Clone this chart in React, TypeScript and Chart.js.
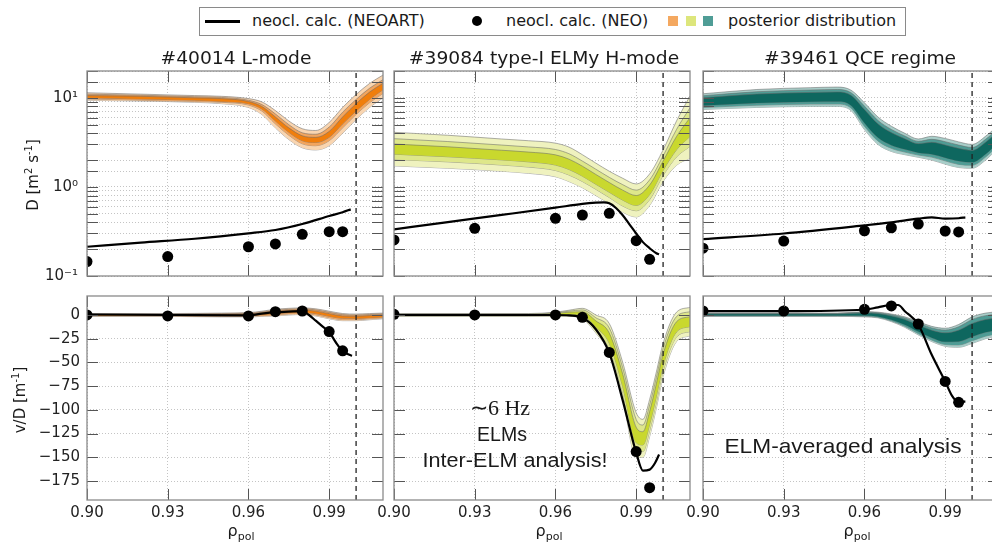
import React, { useEffect, useRef } from 'react';
import { Chart, registerables } from 'chart.js';

Chart.register(...registerables);

// ---------------- axes ----------------
const X_MIN = 0.9;
const X_MAX = 1.01;
const X_TICKS = [0.9, 0.93, 0.96, 0.99];
const X_TICK_LABELS = ['0.90', '0.93', '0.96', '0.99'];
const SEPARATRIX = 1.0;
const D_MIN = 0.1;
const D_MAX = 20;
const D_MAJOR = [0.1, 1, 10];
const D_MAJOR_LABELS = ['10\u207B\u00B9', '10\u2070', '10\u00B9'];
const VD_MIN = -195;
const VD_MAX = 20;
const VD_TICKS = [0, -25, -50, -75, -100, -125, -150, -175];
const VD_TICK_LABELS = ['0', '\u221225', '\u221250', '\u221275', '\u2212100', '\u2212125', '\u2212150', '\u2212175'];

// ---------------- titles ----------------
const TITLES = ['#40014 L-mode', '#39084 type-I ELMy H-mode', '#39461 QCE regime'];

// ---------------- NEO points ----------------
const NEO_X = [0.90, 0.93, 0.96, 0.97, 0.98, 0.99, 0.995];
const NEO_D_40014 = [0.145, 0.165, 0.213, 0.229, 0.294, 0.314, 0.314];
const NEO_D_39084 = [0.254, 0.343, 0.444, 0.484, 0.506, 0.249, 0.154];
const NEO_D_39461 = [0.205, 0.247, 0.322, 0.348, 0.383, 0.32, 0.312];
const NEO_VD_40014 = [0, -1, -1, 3.5, 4.2, -17.5, -37.8];
const NEO_VD_39084 = [0.7, 0, 0, -2.5, -39.5, -144, -182];
const NEO_VD_39461 = [4.2, 4.2, 6, 9.5, -9.5, -70, -92];

// ---------------- NEOART lines ----------------
const NEOART_D_X_40014 = [0.90, 0.92, 0.94, 0.96, 0.97, 0.98, 0.99, 0.995, 0.998];
const NEOART_D_40014 = [0.213, 0.237, 0.262, 0.301, 0.328, 0.383, 0.471, 0.52, 0.56];
const NEOART_D_X_39084 = [0.90, 0.92, 0.94, 0.96, 0.97, 0.975, 0.978, 0.98, 0.9825, 0.985, 0.9875, 0.99, 0.9925, 0.995, 0.9975, 0.9985];
const NEOART_D_39084 = [0.334, 0.403, 0.485, 0.585, 0.645, 0.665, 0.67, 0.655, 0.58, 0.48, 0.38, 0.30, 0.24, 0.205, 0.18, 0.175];
const NEOART_D_X_39461 = [0.90, 0.93, 0.96, 0.97, 0.98, 0.985, 0.99, 0.995, 0.9975];
const NEOART_D_39461 = [0.26, 0.30, 0.37, 0.40, 0.44, 0.455, 0.44, 0.445, 0.455];

const NEOART_VD_X_40014 = [0.90, 0.93, 0.96, 0.965, 0.97, 0.975, 0.98, 0.9825, 0.985, 0.9875, 0.99, 0.9925, 0.995, 0.9975, 0.9985];
const NEOART_VD_40014 = [0.5, 0, -0.5, 1.5, 3, 3.5, 4, 0, -6, -12, -18, -29, -38, -42, -43];
const NEOART_VD_X_39084 = [0.90, 0.93, 0.96, 0.965, 0.97, 0.975, 0.98, 0.985, 0.99, 0.9925, 0.995, 0.997, 0.9985];
const NEOART_VD_39084 = [0, 0, 0, -0.5, -3, -15, -40, -90, -145, -164, -163, -156, -147];
const NEOART_VD_X_39461 = [0.90, 0.93, 0.96, 0.965, 0.97, 0.9725, 0.975, 0.98, 0.985, 0.99, 0.9925, 0.995, 0.9975];
const NEOART_VD_39461 = [4, 4, 5.5, 8, 10.5, 10.5, 4, -10, -42, -70, -85, -92, -91];

// ---------------- posterior bands: D ----------------
const BAND_D_X_40014 = [0.90, 0.92, 0.94, 0.95, 0.96, 0.965, 0.97, 0.975, 0.98, 0.985, 0.99, 0.995, 1.0, 1.005, 1.01];
const D_OUT_LO_40014 = [9.4, 9.2, 8.9, 8.6, 7.8, 6.5, 4.6, 3.4, 2.75, 2.6, 2.9, 4.0, 5.7, 7.8, 10.0];
const D_OUT_HI_40014 = [11.4, 11.0, 10.6, 10.4, 9.8, 9.0, 7.2, 5.5, 4.5, 4.3, 5.3, 7.8, 10.9, 14.5, 18.0];
const D_MID_LO_40014 = [9.7, 9.4, 9.1, 8.9, 8.3, 7.1, 5.1, 3.8, 3.05, 2.9, 3.3, 4.6, 6.5, 8.8, 11.2];
const D_MID_HI_40014 = [11.0, 10.7, 10.3, 10.1, 9.4, 8.4, 6.6, 5.0, 4.05, 3.9, 4.7, 6.9, 9.6, 12.8, 16.0];
const D_CORE_LO_40014 = [10.0, 9.7, 9.4, 9.1, 8.6, 7.5, 5.5, 4.1, 3.3, 3.15, 3.6, 5.1, 7.1, 9.6, 12.3];
const D_CORE_HI_40014 = [10.6, 10.4, 10.0, 9.8, 9.1, 8.0, 6.1, 4.6, 3.75, 3.6, 4.2, 6.1, 8.6, 11.6, 14.6];

const BAND_D_X_39084 = [0.90, 0.92, 0.94, 0.95, 0.96, 0.965, 0.97, 0.975, 0.98, 0.985, 0.99, 0.995, 1.0, 1.005, 1.01];
const D_OUT_LO_39084 = [1.72, 1.62, 1.50, 1.42, 1.30, 1.15, 0.98, 0.80, 0.65, 0.52, 0.46, 0.62, 1.15, 1.75, 2.1];
const D_OUT_HI_39084 = [4.1, 3.8, 3.45, 3.3, 3.1, 2.8, 2.3, 1.85, 1.5, 1.25, 1.08, 1.4, 2.6, 5.5, 10.5];
const D_MID_LO_39084 = [2.03, 1.91, 1.76, 1.67, 1.53, 1.36, 1.15, 0.94, 0.76, 0.61, 0.54, 0.72, 1.34, 2.17, 2.85];
const D_MID_HI_39084 = [3.48, 3.23, 2.95, 2.81, 2.63, 2.36, 1.95, 1.58, 1.28, 1.06, 0.92, 1.20, 2.23, 4.42, 7.74];
const D_CORE_LO_39084 = [2.33, 2.18, 2.01, 1.91, 1.76, 1.57, 1.32, 1.07, 0.87, 0.71, 0.62, 0.82, 1.53, 2.61, 3.69];
const D_CORE_HI_39084 = [3.03, 2.82, 2.58, 2.46, 2.29, 2.05, 1.71, 1.38, 1.12, 0.92, 0.80, 1.05, 1.95, 3.68, 5.98];

const BAND_D_X_39461 = [0.90, 0.92, 0.94, 0.95, 0.955, 0.96, 0.965, 0.97, 0.975, 0.98, 0.985, 0.99, 0.995, 1.0, 1.005, 1.01];
const D_OUT_LO_39461 = [7.4, 7.8, 8.0, 8.0, 7.2, 4.4, 3.0, 2.5, 2.3, 2.15, 2.0, 1.8, 1.65, 1.62, 2.0, 2.8];
const D_OUT_HI_39461 = [11.1, 12.4, 13.0, 13.2, 12.2, 8.8, 6.1, 4.8, 4.0, 3.45, 3.7, 3.5, 3.2, 3.0, 3.7, 5.0];
const D_MID_LO_39461 = [7.78, 8.26, 8.5, 8.52, 7.69, 4.80, 3.28, 2.71, 2.46, 2.28, 2.16, 1.96, 1.79, 1.75, 2.16, 3.01];
const D_MID_HI_39461 = [10.55, 11.70, 12.24, 12.4, 11.42, 8.07, 5.58, 4.42, 3.73, 3.25, 3.42, 3.22, 2.95, 2.77, 3.42, 4.65];
const D_CORE_LO_39461 = [8.18, 8.75, 9.03, 9.07, 8.21, 5.23, 3.58, 2.94, 2.64, 2.42, 2.33, 2.13, 1.95, 1.89, 2.33, 3.24];
const D_CORE_HI_39461 = [10.03, 11.04, 11.5, 11.65, 10.69, 7.40, 5.11, 4.07, 3.48, 3.06, 3.17, 2.96, 2.71, 2.57, 3.17, 4.32];

// ---------------- posterior bands: v/D ----------------
const BAND_VD_X_40014 = [0.90, 0.93, 0.95, 0.96, 0.965, 0.97, 0.975, 0.98, 0.985, 0.99, 0.995, 1.0, 1.005, 1.01];
const VD_OUT_LO_40014 = [-1.5, -1.5, -2, -2, -1.5, -1, 0, 0.5, -1, -4, -6, -6, -5, -4];
const VD_OUT_HI_40014 = [1.5, 1.5, 2, 2.5, 4, 6, 7, 7.5, 6.5, 4, 1.5, 1, 1.5, 2];
const VD_MID_LO_40014 = [-1.05, -1.05, -1.4, -1.3, -0.7, 0.05, 1.05, 1.55, 0.1, -2.8, -4.9, -4.95, -4.0, -3.1];
const VD_MID_HI_40014 = [1.05, 1.05, 1.4, 1.8, 3.2, 4.95, 5.95, 6.45, 5.4, 2.8, 0.4, -0.05, 0.5, 1.1];
const VD_CORE_LO_40014 = [-0.5, -0.5, -0.7, -0.5, 0.3, 1.3, 2.3, 2.8, 1.45, -1.4, -3.55, -3.7, -2.9, -2.05];
const VD_CORE_HI_40014 = [0.5, 0.5, 0.7, 1.0, 2.2, 3.7, 4.7, 5.2, 4.05, 1.4, -0.95, -1.3, -0.6, 0.05];

const BAND_VD_X_39084 = [0.90, 0.93, 0.95, 0.96, 0.965, 0.97, 0.975, 0.98, 0.985, 0.99, 0.9925, 0.995, 0.9975, 1.0, 1.005, 1.01];
const VD_OUT_LO_39084 = [-1.5, -1.5, -1.5, -1.5, -1.5, -4, -19, -40, -88, -150, -150, -128, -98, -65, -28, -22];
const VD_OUT_HI_39084 = [1.5, 1.5, 1.5, 3, 5, 7, 0, -9, -50, -103, -110, -89, -60, -30, 3, 8];
const VD_MID_LO_39084 = [-1.05, -1.05, -1.05, -0.8, -0.5, -2.35, -16.15, -35.35, -82.3, -142.95, -144, -122.15, -92.3, -59.75, -23.35, -17.5];
const VD_MID_HI_39084 = [1.05, 1.05, 1.05, 2.3, 4.0, 5.35, -2.85, -13.65, -55.7, -110.05, -116, -94.85, -65.7, -35.25, -1.65, 3.5];
const VD_CORE_LO_39084 = [-0.5, -0.5, -0.5, -0.05, 0.6, -0.4, -12.8, -29.9, -75.65, -134.7, -137, -115.3, -85.65, -53.6, -17.9, -12.25];
const VD_CORE_HI_39084 = [0.5, 0.5, 0.5, 1.55, 2.9, 3.4, -6.2, -19.1, -62.35, -118.3, -123, -101.7, -72.35, -41.4, -7.1, -1.75];

const BAND_VD_X_39461 = [0.90, 0.93, 0.95, 0.96, 0.965, 0.97, 0.975, 0.98, 0.985, 0.99, 0.995, 1.0, 1.005, 1.01];
const VD_OUT_LO_39461 = [-1.5, -1.5, -1.5, -2, -3, -7, -13, -21, -28, -33, -34, -30, -25, -22];
const VD_OUT_HI_39461 = [2, 2, 2, 3.5, 3, 1, -2, -7, -12, -14, -10, -2, 2, 3.5];
const VD_MID_LO_39461 = [-1.15, -1.15, -1.15, -1.45, -2.4, -6.2, -11.9, -19.6, -26.4, -31.1, -31.6, -27.2, -22.3, -19.45];
const VD_MID_HI_39461 = [1.65, 1.65, 1.65, 2.95, 2.4, 0.2, -3.1, -8.4, -13.6, -15.9, -12.4, -4.8, -0.7, 0.95];
const VD_CORE_LO_39461 = [-0.6, -0.6, -0.6, -0.6, -1.5, -5, -10.25, -17.5, -24, -28.25, -28, -23, -18.25, -15.6];
const VD_CORE_HI_39461 = [1.1, 1.1, 1.1, 2.1, 1.5, -1, -4.75, -10.5, -16, -18.75, -16, -9, -4.75, -2.9];

// ---------------- colours ----------------
const ORANGE = ['#f9d5b0', '#f2a55e', '#f07e0c'];
const YELLOW = ['#eff2bf', '#dee78a', '#c9d82e'];
const TEAL = ['#a8cec9', '#4f9c95', '#0e675f'];
const LEGEND_SWATCHES = ['#f4a860', '#dde67c', '#4f9d96'];
const EDGE = 'rgba(105,105,105,0.6)';

// ---------------- layout ----------------
const COL_LEFT = [87, 394, 703];
const PANEL_W = 296;
const ROW_TOP = [71, 296];
const ROW_H = [205, 204];

type Band = { x: number[]; outLo: number[]; outHi: number[]; midLo: number[]; midHi: number[]; coreLo: number[]; coreHi: number[] };

type PanelDef = {
  row: number;
  col: number;
  band: Band;
  colors: string[];
  lineX: number[];
  lineY: number[];
  ptsY: number[];
};

const zip = (xs: number[], ys: number[]) => xs.map((x, i) => ({ x, y: ys[i] }));

const PANELS: PanelDef[] = [
  { row: 0, col: 0, colors: ORANGE, lineX: NEOART_D_X_40014, lineY: NEOART_D_40014, ptsY: NEO_D_40014,
    band: { x: BAND_D_X_40014, outLo: D_OUT_LO_40014, outHi: D_OUT_HI_40014, midLo: D_MID_LO_40014, midHi: D_MID_HI_40014, coreLo: D_CORE_LO_40014, coreHi: D_CORE_HI_40014 } },
  { row: 0, col: 1, colors: YELLOW, lineX: NEOART_D_X_39084, lineY: NEOART_D_39084, ptsY: NEO_D_39084,
    band: { x: BAND_D_X_39084, outLo: D_OUT_LO_39084, outHi: D_OUT_HI_39084, midLo: D_MID_LO_39084, midHi: D_MID_HI_39084, coreLo: D_CORE_LO_39084, coreHi: D_CORE_HI_39084 } },
  { row: 0, col: 2, colors: TEAL, lineX: NEOART_D_X_39461, lineY: NEOART_D_39461, ptsY: NEO_D_39461,
    band: { x: BAND_D_X_39461, outLo: D_OUT_LO_39461, outHi: D_OUT_HI_39461, midLo: D_MID_LO_39461, midHi: D_MID_HI_39461, coreLo: D_CORE_LO_39461, coreHi: D_CORE_HI_39461 } },
  { row: 1, col: 0, colors: ORANGE, lineX: NEOART_VD_X_40014, lineY: NEOART_VD_40014, ptsY: NEO_VD_40014,
    band: { x: BAND_VD_X_40014, outLo: VD_OUT_LO_40014, outHi: VD_OUT_HI_40014, midLo: VD_MID_LO_40014, midHi: VD_MID_HI_40014, coreLo: VD_CORE_LO_40014, coreHi: VD_CORE_HI_40014 } },
  { row: 1, col: 1, colors: YELLOW, lineX: NEOART_VD_X_39084, lineY: NEOART_VD_39084, ptsY: NEO_VD_39084,
    band: { x: BAND_VD_X_39084, outLo: VD_OUT_LO_39084, outHi: VD_OUT_HI_39084, midLo: VD_MID_LO_39084, midHi: VD_MID_HI_39084, coreLo: VD_CORE_LO_39084, coreHi: VD_CORE_HI_39084 } },
  { row: 1, col: 2, colors: TEAL, lineX: NEOART_VD_X_39461, lineY: NEOART_VD_39461, ptsY: NEO_VD_39461,
    band: { x: BAND_VD_X_39461, outLo: VD_OUT_LO_39461, outHi: VD_OUT_HI_39461, midLo: VD_MID_LO_39461, midHi: VD_MID_HI_39461, coreLo: VD_CORE_LO_39461, coreHi: VD_CORE_HI_39461 } },
];

const TICK_LEN = 11;

const frameTicks = {
  id: 'frameTicks',
  afterDatasetsDraw(chart: any) {
    const { ctx, chartArea } = chart;
    const { left, right, top, bottom } = chartArea;
    const xs = chart.scales.x;
    const ys = chart.scales.y;
    ctx.save();
    ctx.strokeStyle = '#555';
    ctx.lineWidth = 1;
    ctx.beginPath();
    xs.ticks.forEach((t: any) => {
      const p = Math.round(xs.getPixelForValue(t.value)) + 0.5;
      ctx.moveTo(p, top);
      ctx.lineTo(p, top + TICK_LEN);
      ctx.moveTo(p, bottom);
      ctx.lineTo(p, bottom - TICK_LEN);
    });
    ys.ticks.forEach((t: any) => {
      const p = Math.round(ys.getPixelForValue(t.value)) + 0.5;
      if (p < top - 1 || p > bottom + 1) return;
      ctx.moveTo(left, p);
      ctx.lineTo(left + TICK_LEN, p);
      ctx.moveTo(right, p);
      ctx.lineTo(right - TICK_LEN, p);
    });
    ctx.stroke();
    ctx.strokeStyle = '#8a8a8a';
    ctx.lineWidth = 1.3;
    ctx.strokeRect(left, top, right - left, bottom - top);
    ctx.restore();
  },
};

function Panel({ def }: { def: PanelDef }) {
  const ref = useRef<HTMLCanvasElement | null>(null);
  const padL = def.col === 0 ? 82 : 25;
  const padR = 8;
  const padT = 8;
  const padB = def.row === 0 ? 8 : 30;
  const cw = padL + PANEL_W + padR;
  const chh = padT + ROW_H[def.row] + padB;
  const left = COL_LEFT[def.col] - padL;
  const top = ROW_TOP[def.row] - padT;
  const isLog = def.row === 0;
  const yMin = isLog ? D_MIN : VD_MIN;
  const yMax = isLog ? D_MAX : VD_MAX;

  useEffect(() => {
    if (!ref.current) return;
    const b = def.band;
    const mk = (ys: number[], fill: any, bg: string, order: number) => ({
      data: zip(b.x, ys),
      fill,
      backgroundColor: bg,
      borderColor: EDGE,
      borderWidth: 0.9,
      pointRadius: 0,
      cubicInterpolationMode: 'monotone',
      order,
    });
    const datasets: any[] = [
      mk(b.outHi, '+1', def.colors[0], 10),
      mk(b.outLo, false, def.colors[0], 10),
      mk(b.midHi, '+1', def.colors[1], 9),
      mk(b.midLo, false, def.colors[1], 9),
      mk(b.coreHi, '+1', def.colors[2], 8),
      mk(b.coreLo, false, def.colors[2], 8),
      {
        data: [{ x: SEPARATRIX, y: yMin }, { x: SEPARATRIX, y: yMax }],
        borderColor: '#222',
        borderWidth: 1.3,
        borderDash: [5, 4],
        pointRadius: 0,
        fill: false,
        order: 3,
      },
      {
        data: zip(def.lineX, def.lineY),
        borderColor: '#000',
        borderWidth: 2.2,
        pointRadius: 0,
        fill: false,
        cubicInterpolationMode: 'monotone',
        order: 2,
      },
      {
        data: zip(NEO_X, def.ptsY),
        showLine: false,
        pointRadius: 5.5,
        pointBackgroundColor: '#000',
        pointBorderColor: '#000',
        pointBorderWidth: 0,
        fill: false,
        clip: 0,
        order: 1,
      },
    ];
    const tickFont = { family: 'DejaVu Sans', size: 15 };
    const chart = new Chart(ref.current, {
      type: 'line',
      data: { datasets },
      plugins: [frameTicks],
      options: {
        animation: false,
        responsive: false,
        events: [],
        layout: { padding: { top: padT, right: padR, left: 0, bottom: 0 } },
        plugins: { legend: { display: false }, tooltip: { enabled: false }, title: { display: false } },
        scales: {
          x: {
            type: 'linear',
            min: X_MIN,
            max: X_MAX,
            afterBuildTicks: (s: any) => { s.ticks = X_TICKS.map((v) => ({ value: v })); },
            afterFit: (s: any) => { s.height = padB; s.paddingLeft = 0; s.paddingRight = 0; },
            ticks: {
              display: def.row === 1,
              autoSkip: false,
              maxRotation: 0,
              padding: 4,
              color: '#222',
              font: tickFont,
              callback: (v: any) => {
                const i = X_TICKS.findIndex((t) => Math.abs(t - v) < 1e-9);
                return i >= 0 ? X_TICK_LABELS[i] : '';
              },
            },
            grid: { color: '#c4c4c4', lineWidth: 1, drawTicks: false },
            border: { display: false, dash: [1, 2] },
          },
          y: isLog
            ? {
                type: 'logarithmic',
                min: D_MIN,
                max: D_MAX,
                afterFit: (s: any) => { s.width = padL; s.paddingTop = 0; s.paddingBottom = 0; },
                ticks: {
                  display: def.col === 0,
                  autoSkip: false,
                  padding: 9,
                  color: '#222',
                  font: tickFont,
                  callback: (v: any) => {
                    const i = D_MAJOR.findIndex((t) => Math.abs(t - v) < t * 1e-6);
                    return i >= 0 ? D_MAJOR_LABELS[i] : '';
                  },
                },
                grid: { color: '#c4c4c4', lineWidth: 1, drawTicks: false },
                border: { display: false, dash: [1, 2] },
              }
            : {
                type: 'linear',
                min: VD_MIN,
                max: VD_MAX,
                afterBuildTicks: (s: any) => { s.ticks = VD_TICKS.map((v) => ({ value: v })); },
                afterFit: (s: any) => { s.width = padL; s.paddingTop = 0; s.paddingBottom = 0; },
                ticks: {
                  display: def.col === 0,
                  autoSkip: false,
                  padding: 7,
                  color: '#222',
                  font: tickFont,
                  callback: (v: any) => {
                    const i = VD_TICKS.findIndex((t) => Math.abs(t - v) < 1e-9);
                    return i >= 0 ? VD_TICK_LABELS[i] : '';
                  },
                },
                grid: { color: '#c4c4c4', lineWidth: 1, drawTicks: false },
                border: { display: false, dash: [1, 2] },
              },
        },
      } as any,
    } as any);
    return () => chart.destroy();
  }, []);

  return (
    <canvas
      ref={ref}
      width={cw}
      height={chh}
      style={{ position: 'absolute', left, top, width: cw, height: chh, display: 'block' }}
    />
  );
}

type TxtProps = { x: number; y: number; children: any; size: number; family?: string; align?: 'center' | 'left'; sx?: number; rot?: number };
function Txt({ x, y, children, size, family, align = 'center', sx = 1, rot = 0 }: TxtProps) {
  const tx = align === 'center' ? '-50%' : '0';
  return (
    <div
      style={{
        position: 'absolute',
        left: x,
        top: y,
        whiteSpace: 'nowrap',
        fontSize: size,
        fontFamily: family || 'DejaVu Sans',
        color: '#1a1a1a',
        lineHeight: 1.15,
        transform: `translate(${tx}, -50%) rotate(${rot}deg) scaleX(${sx})`,
        transformOrigin: align === 'center' ? 'center center' : 'left center',
      }}
    >
      {children}
    </div>
  );
}

export default function App() {
  const titleX = [236, 544, 860];
  const rhoX = [241, 549, 857];
  return (
    <div style={{ position: 'absolute', left: 0, top: 0, width: 992, height: 547, overflow: 'hidden', background: '#fff' }}>
      {PANELS.map((p, i) => (
        <Panel key={i} def={p} />
      ))}
      {/* legend */}
      <div style={{ position: 'absolute', left: 199, top: 7, width: 707, height: 29, border: '1px solid #8a8a8a', boxSizing: 'border-box', background: '#fff' }} />
      <div style={{ position: 'absolute', left: 205, top: 20, width: 35, height: 2.5, background: '#000' }} />
      <Txt x={252} y={21} size={16} align="left">neocl. calc. (NEOART)</Txt>
      <div style={{ position: 'absolute', left: 472, top: 16, width: 10, height: 10, borderRadius: '50%', background: '#000' }} />
      <Txt x={506} y={21} size={16} align="left">neocl. calc. (NEO)</Txt>
      {LEGEND_SWATCHES.map((c, i) => (
        <div key={c} style={{ position: 'absolute', left: 668 + i * 17.5, top: 16, width: 10, height: 10, background: c }} />
      ))}
      <Txt x={728} y={21} size={16} align="left">posterior distribution</Txt>
      {/* titles */}
      {TITLES.map((t, i) => (
        <Txt key={t} x={titleX[i]} y={59} size={17} sx={1.1}>{t}</Txt>
      ))}
      {/* axis titles */}
      <Txt x={33} y={175} size={15} rot={-90}>
        <span>D [m<sup style={{ fontSize: 10 }}>2</sup> s<sup style={{ fontSize: 10 }}>-1</sup>]</span>
      </Txt>
      <Txt x={20} y={400} size={15} rot={-90}>
        <span>v/D [m<sup style={{ fontSize: 10 }}>-1</sup>]</span>
      </Txt>
      {rhoX.map((x) => (
        <Txt key={x} x={x} y={533} size={16}>
          <span>ρ<sub style={{ fontSize: 11 }}>pol</sub></span>
        </Txt>
      ))}
      {/* annotations */}
      <Txt x={500} y={408} size={22} family="Liberation Serif">∼6 Hz</Txt>
      <Txt x={502} y={434} size={19.5} family="Liberation Sans">ELMs</Txt>
      <Txt x={515} y={460} size={20} family="Liberation Sans" sx={1.08}>Inter-ELM analysis!</Txt>
      <Txt x={843} y={446} size={21} family="Liberation Sans" sx={1.08}>ELM-averaged analysis</Txt>
    </div>
  );
}
